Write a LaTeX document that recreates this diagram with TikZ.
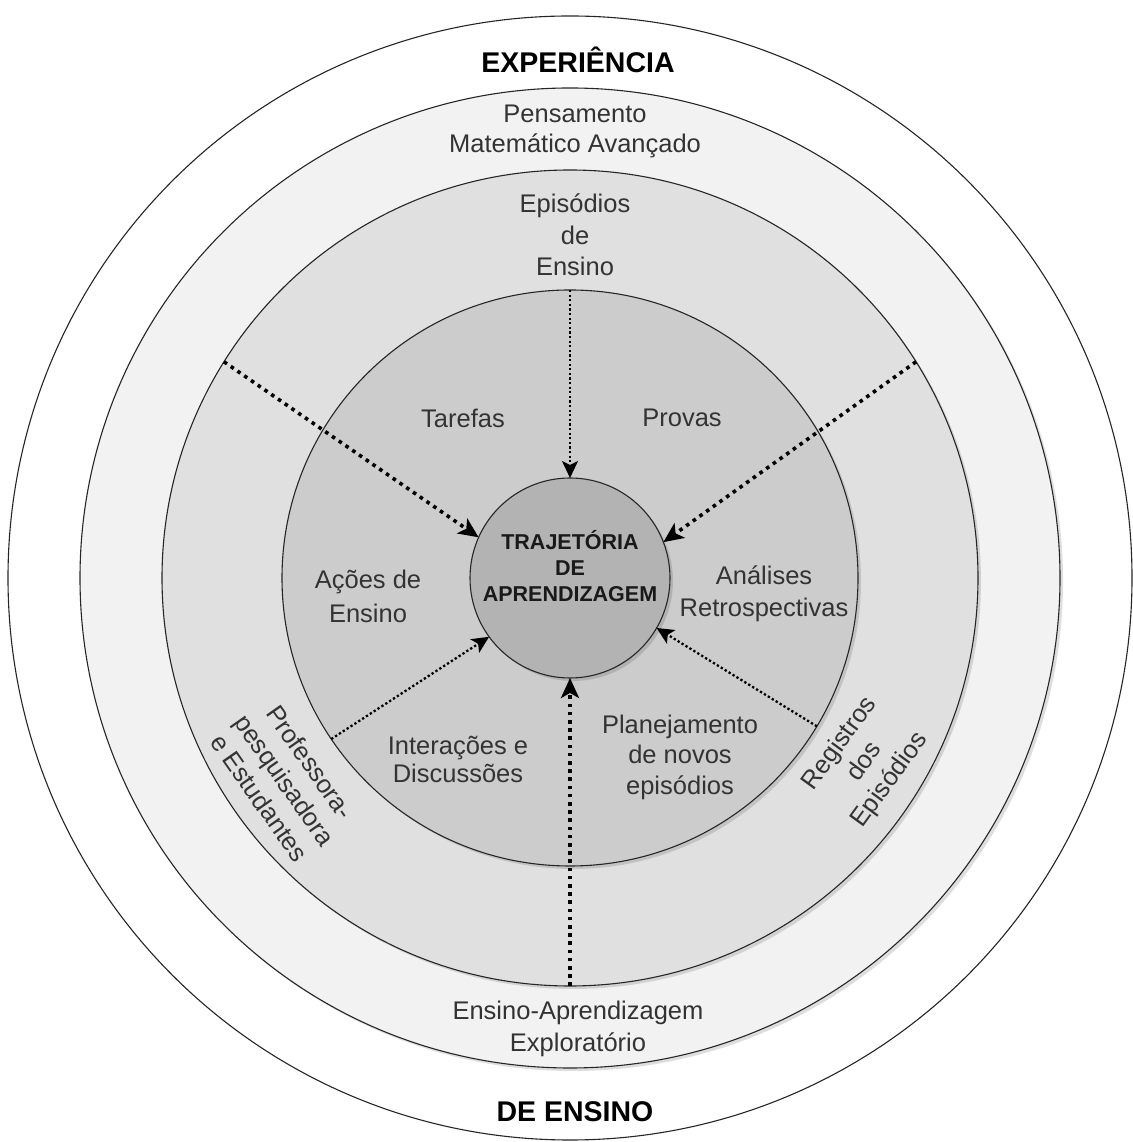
\documentclass[tikz,border=0pt]{standalone}
\usepackage{fontspec}
\setmainfont{Liberation Sans}
\usetikzlibrary{arrows.meta}
\definecolor{ringA}{HTML}{F2F2F2}
\definecolor{ringB}{HTML}{E0E0E0}
\definecolor{ringC}{HTML}{CCCCCC}
\definecolor{core}{HTML}{B3B3B3}
\definecolor{txt}{HTML}{333333}
\begin{document}
\begin{tikzpicture}[x=1pt,y=1pt,
  ring/.style={circle, draw=black!85, line width=1.1pt, inner sep=0pt, outer sep=0pt, minimum size=#1},
  shadowc/.style={circle, fill=black, fill opacity=0.13, inner sep=0pt, outer sep=0pt, minimum size=#1},
  lbl/.style={text=txt, font=\fontsize{25.5}{31}\selectfont, align=center, inner sep=0pt},
  ttl/.style={font=\bfseries\fontsize{28.5}{32}\selectfont, inner sep=0pt},
  thickarr/.style={line width=3.6pt, dash pattern=on 3.6pt off 4.6pt, -{Stealth[length=20pt,width=18pt,inset=5pt]}},
  thinarr/.style={line width=2.3pt, dash pattern=on 2.3pt off 2.3pt, -{Stealth[length=17pt,width=16pt,inset=4pt]}},
]
\useasboundingbox (0,0) rectangle (1132,1142);
% circles
\node[ring=1124pt, fill=white] (outer) at (570,564) {};
\node[shadowc=980pt] (shA) at (573,561) {};
\node[ring=980pt, fill=ringA] (pma) at (570,564) {};
\node[shadowc=816pt] (shB) at (573,561) {};
\node[ring=816pt, fill=ringB] (epi) at (570,564) {};
\node[shadowc=576pt] (shC) at (573,561) {};
\node[ring=576pt, fill=ringC] (act) at (570,564) {};
\node[shadowc=200pt] (shD) at (573,561) {};
\node[ring=200pt, fill=core] (core) at (570,564) {};
% arrows
\draw[thinarr] (act.90) -- (core.90);
\draw[thickarr] (epi.148.7) -- (core.156.5);
\draw[thickarr] (epi.32) -- (core.21.2);
\draw[thinarr] (act.214.1) -- (core.216.4);
\draw[thinarr] (act.329.7) -- (core.330);
\draw[thickarr] (epi.270) -- (core.270);
% labels
\node[ttl] (t1) at (578,1082) {EXPERIÊNCIA};
\node[ttl] (t2) at (575,30) {DE ENSINO};
\node[lbl, font=\fontsize{25.5}{30}\selectfont] (l1) at (575,1011) {Pensamento\\Matemático Avançado};
\node[lbl, font=\fontsize{25.5}{31.5}\selectfont] (l2) at (575,907) {Episódios\\de\\Ensino};
\node[lbl] (l3) at (463,724) {Tarefas};
\node[lbl] (l4) at (682,724) {Provas};
\node[lbl, font=\fontsize{25.5}{34}\selectfont] (l5) at (368,546) {Ações de\\Ensino};
\node[lbl, font=\fontsize{25.5}{32}\selectfont] (l6) at (764,548) {Análises\\Retrospectivas};
\node[lbl, font=\fontsize{25.5}{28}\selectfont] (l7) at (458,383) {Interações e\\Discussões};
\node[lbl, font=\fontsize{25.5}{30.5}\selectfont] (l8) at (680,385) {Planejamento\\de novos\\episódios};
\node[lbl, rotate=-55] (l9) at (285,362) {Professora-\\pesquisadora\\e Estudantes};
\node[lbl, rotate=54] (l10) at (865,380) {Registros\\dos\\Episódios};
\node[lbl, font=\fontsize{25.5}{32}\selectfont] (l11) at (578,113) {Ensino-Aprendizagem\\Exploratório};
\node[align=center, inner sep=0pt, text=black!90, font=\bfseries\fontsize{21.5}{26}\selectfont] (l12) at (570,576) {TRAJETÓRIA\\DE\\APRENDIZAGEM};
\end{tikzpicture}
\end{document}
